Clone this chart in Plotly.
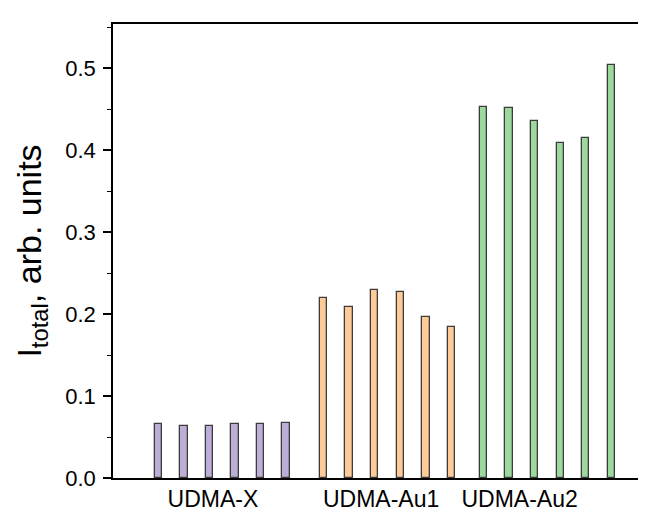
import plotly.graph_objects as go

groups = ["UDMA-X", "UDMA-Au1", "UDMA-Au2"]
x_pos = {
    "UDMA-X": [1, 2, 3, 4, 5, 6],
    "UDMA-Au1": [7.47, 8.47, 9.47, 10.47, 11.47, 12.47],
    "UDMA-Au2": [13.73, 14.73, 15.73, 16.73, 17.73, 18.73],
}
values = {
    "UDMA-X": [0.066, 0.064, 0.064, 0.066, 0.066, 0.067],
    "UDMA-Au1": [0.220, 0.208, 0.229, 0.227, 0.196, 0.184],
    "UDMA-Au2": [0.453, 0.451, 0.435, 0.409, 0.415, 0.504],
}
colors = {"UDMA-X": "#bcaed6", "UDMA-Au1": "#fccb98", "UDMA-Au2": "#9dd89d"}
label_pos = [3.14, 9.72, 15.14]
y_ticks = [0.0, 0.1, 0.2, 0.3, 0.4, 0.5]

fig = go.Figure()
for g in groups:
    fig.add_trace(go.Bar(
        x=x_pos[g], y=values[g], width=0.29,
        marker=dict(color=colors[g], line=dict(color="#3c3c3c", width=1.3)),
        showlegend=False,
    ))

fig.update_layout(
    width=646, height=511,
    margin=dict(l=105, r=0, t=16, b=41),
    paper_bgcolor="white", plot_bgcolor="white",
    font=dict(family="Liberation Sans, Arial, sans-serif", color="black"),
    xaxis=dict(
        range=[-0.773, 20.40], tickvals=label_pos, ticktext=groups,
        showline=True, linecolor="black", linewidth=1.5, mirror=True,
        ticks="", showgrid=False, zeroline=False,
        tickfont=dict(size=23),
    ),
    yaxis=dict(
        range=[0, 0.5537], tickvals=y_ticks, ticktext=[f"{v:.1f}" for v in y_ticks],
        showline=True, linecolor="black", linewidth=1.5,
        ticks="outside", ticklen=8, tickwidth=1.5, tickcolor="black",
        ticklabelstandoff=3,
        minor=dict(tickvals=[0.05, 0.15, 0.25, 0.35, 0.45, 0.55], ticks="outside", ticklen=4, tickwidth=1.2, tickcolor="black"),
        showgrid=False, zeroline=False,
        tickfont=dict(size=22),
        title=dict(text="I<sub>total</sub>, arb. units", font=dict(size=34), standoff=13),
    ),
    bargap=0,
)

fig.write_html("out.html")
